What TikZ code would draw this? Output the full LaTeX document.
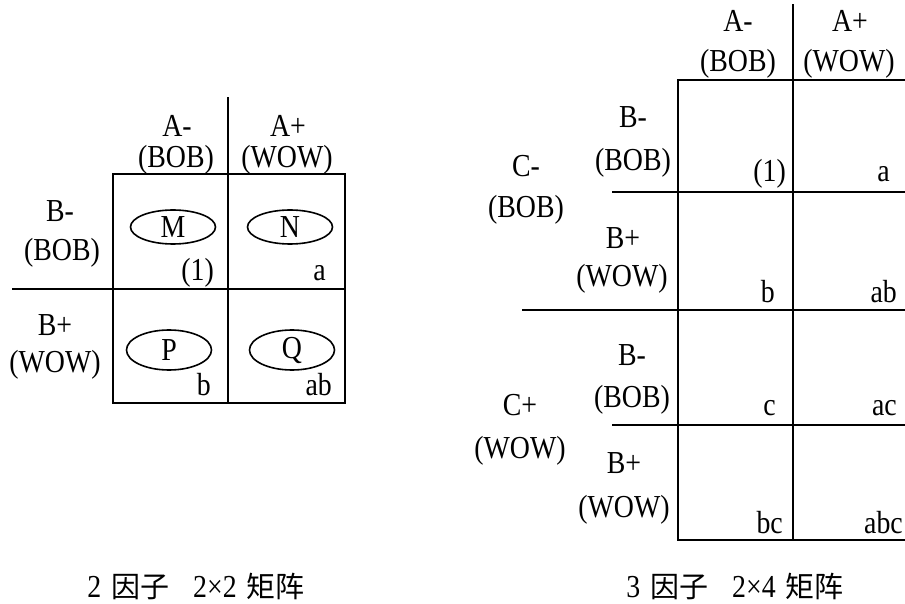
\documentclass[tikz,border=0pt]{standalone}
\usepackage{fontspec}
\usetikzlibrary{shapes.geometric}
\setmainfont[FakeStretch=0.87]{Liberation Serif}
\newfontfamily\cjk{Noto Sans CJK SC}
\begin{document}
\begin{tikzpicture}[x=1pt,y=-1pt,
  gridline/.style={line width=1.6pt, line cap=rect},
  lab/.style={inner sep=0pt, anchor=base, font=\fontsize{32}{38}\selectfont},
  celltxt/.style={inner sep=0pt, anchor=base east, font=\fontsize{32}{38}\selectfont},
  oval/.style={draw, line width=1.6pt, ellipse, minimum width=85pt, inner sep=0pt, font=\fontsize{32}{38}\selectfont},
  captxt/.style={inner sep=0pt, anchor=base, font=\fontsize{32}{38}\selectfont}]
\useasboundingbox (0,0) rectangle (905,604);
% ---------- left 2x2 matrix ----------
\coordinate (LTL) at (113,174);
\coordinate (LBR) at (345,403);
\coordinate (LVt) at (228,98);
\coordinate (LVb) at (228,403);
\coordinate (LHl) at (13,289);
\coordinate (LHr) at (345,289);
\draw[gridline] (LTL) rectangle (LBR);
\draw[gridline] (LVt) -- (LVb);
\draw[gridline] (LHl) -- (LHr);
\node[lab] (lam) at (177,137) {A-};
\node[lab] (lap) at (288,137) {A+};
\node[lab] (lamb) at (176,168) {(BOB)};
\node[lab] (lapw) at (287,168) {(WOW)};
\node[lab] (lbm) at (60,222) {B-};
\node[lab] (lbmb) at (62,260) {(BOB)};
\node[lab] (lbp) at (55,335) {B+};
\node[lab] (lbpw) at (55,372) {(WOW)};
\node[oval, minimum height=34pt] (M) at (173,227) {M};
\node[oval, minimum height=34pt] (N) at (290,227) {N};
\node[oval, minimum height=40pt] (P) at (169,350) {P};
\node[oval, minimum height=40pt] (Q) at (292,350) {Q};
\node[celltxt] (l1) at (214,280) {(1)};
\node[celltxt] (la) at (326,280) {a};
\node[celltxt] (lb) at (211,395) {b};
\node[celltxt] (lab) at (332,395) {ab};
% ---------- right 2x4 matrix ----------
\coordinate (RTL) at (678,80);
\coordinate (RTR) at (905,80);
\coordinate (RBL) at (678,540);
\coordinate (RBR) at (905,540);
\coordinate (RVt) at (793,5);
\coordinate (RVb) at (793,540);
\coordinate (RH1l) at (613,192);
\coordinate (RH1r) at (905,192);
\coordinate (RH2l) at (523,310);
\coordinate (RH2r) at (905,310);
\coordinate (RH3l) at (613,425);
\coordinate (RH3r) at (905,425);
\draw[gridline] (RTR) -- (RTL) -- (RBL) -- (RBR);
\draw[gridline] (RVt) -- (RVb);
\draw[gridline] (RH1l) -- (RH1r);
\draw[gridline] (RH2l) -- (RH2r);
\draw[gridline] (RH3l) -- (RH3r);
\node[lab] (ram) at (738,32) {A-};
\node[lab] (rap) at (850,32) {A+};
\node[lab] (ramb) at (738,72) {(BOB)};
\node[lab] (rapw) at (849,72) {(WOW)};
\node[lab] (rb1) at (633,128) {B-};
\node[lab] (rb1b) at (633,171) {(BOB)};
\node[lab] (rcm) at (526,177) {C-};
\node[lab] (rcmb) at (526,218) {(BOB)};
\node[lab] (rb2) at (623,248) {B+};
\node[lab] (rb2w) at (622,287) {(WOW)};
\node[lab] (rb3) at (632,365) {B-};
\node[lab] (rb3b) at (632,407) {(BOB)};
\node[lab] (rcp) at (520,415) {C+};
\node[lab] (rcpw) at (520,458) {(WOW)};
\node[lab] (rb4) at (624,473) {B+};
\node[lab] (rb4w) at (624,517) {(WOW)};
\node[celltxt] (r1) at (786,182) {(1)};
\node[celltxt] (ra) at (890,182) {a};
\node[celltxt] (rb) at (775,302) {b};
\node[celltxt] (rab) at (897,302) {ab};
\node[celltxt] (rc) at (776,415) {c};
\node[celltxt] (rac) at (897,415) {ac};
\node[celltxt] (rbc) at (783,533) {bc};
\node[celltxt] (rabc) at (903,533) {abc};
% ---------- captions ----------
\node[captxt] (c1) at (196,597) {2\hspace{10pt}{\cjk\fontsize{29}{34}\selectfont 因子}\hspace{24pt}2×2\hspace{10pt}{\cjk\fontsize{29}{34}\selectfont 矩阵}};
\node[captxt] (c2) at (735,597) {3\hspace{10pt}{\cjk\fontsize{29}{34}\selectfont 因子}\hspace{24pt}2×4\hspace{10pt}{\cjk\fontsize{29}{34}\selectfont 矩阵}};
\end{tikzpicture}
\end{document}
